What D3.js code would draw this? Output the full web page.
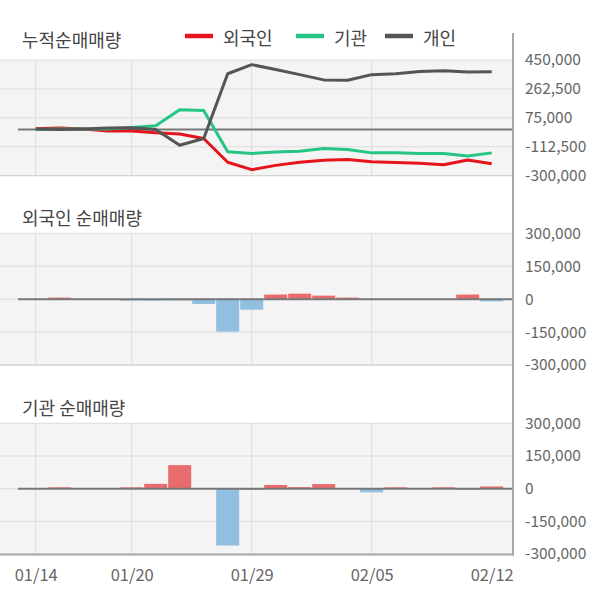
<!DOCTYPE html>
<html><head><meta charset="utf-8">
<script src="https://cdn.jsdelivr.net/npm/d3@7"></script>
<style>body{margin:0;background:#fff}svg{display:block}</style>
</head><body>
<script>
const dates = ["01/14","01/15","01/16","01/17","01/20","01/21","01/22","01/23","01/28","01/29","01/30","01/31","02/03","02/04","02/05","02/06","02/07","02/10","02/11","02/12"];
const xTickLabels = ["01/14","01/20","01/29","02/05","02/12"];
const gridDates = ["01/14","01/20","01/29","02/05"];
const cumForeign = [5000,10000,3000,-10000,-10000,-22000,-30000,-59000,-213000,-261000,-233000,-213000,-200000,-195000,-209000,-215000,-220000,-229000,-198000,-222000];
const cumInst = [0,2000,3000,2000,13000,24000,128000,123000,-145000,-156000,-147000,-141000,-123000,-130000,-152000,-152000,-156000,-156000,-172000,-152000];
const cumIndiv = [3000,0,3000,9000,11000,0,-103000,-59000,361000,420000,388000,355000,321000,319000,355000,361000,376000,381000,372000,374000];
const foreignNet = [0,7000,0,0,-7000,-7000,-6000,-22000,-148000,-48000,21000,25000,16000,7000,0,0,0,0,21000,-10000];
const instNet = [0,6000,0,0,6000,22000,108000,0,-261000,-6000,17000,7000,21000,0,-17000,6000,0,6000,-5000,10000];
const cumTicks = [450000,262500,75000,-112500,-300000];
const netTicks = [300000,150000,0,-150000,-300000];
const seriesNames = ["외국인","기관","개인"];
const seriesColors = ["#e5141c","#26c485","#555555"];

const W=600,H=604;
const svg=d3.select("body").append("svg").attr("width",W).attr("height",H);
const font="'Noto Sans CJK KR','Noto Sans',sans-serif";
const x=d3.scalePoint().domain(dates).range([35.7,491.7]);
const fmt=d3.formatLocale({decimal:".",thousands:",",grouping:[3],currency:["",""],minus:"-"}).format(",");

const panels=[
  {top:60,bottom:175.7,domain:[-300000,450000],ticks:cumTicks,title:"누적순매매량",titleY:47},
  {top:233.3,bottom:365,domain:[-300000,300000],ticks:netTicks,title:"외국인 순매매량",titleY:225},
  {top:423.3,bottom:554,domain:[-300000,300000],ticks:netTicks,title:"기관 순매매량",titleY:415}
];
panels.forEach(p=>{
  p.y=d3.scaleLinear().domain(p.domain).range([p.bottom,p.top]);
  svg.append("rect").attr("x",0).attr("y",p.top).attr("width",513).attr("height",p.bottom-p.top).attr("fill","#f4f4f4");
  const g=svg.append("g");
  p.ticks.forEach(t=>{
    g.append("line").attr("x1",0).attr("x2",513).attr("y1",p.y(t)).attr("y2",p.y(t)).attr("stroke","#dcdcdc").attr("stroke-width",1);
  });
  gridDates.forEach(d=>{
    g.append("line").attr("x1",x(d)).attr("x2",x(d)).attr("y1",p.top).attr("y2",p.bottom).attr("stroke","#dcdcdc").attr("stroke-width",1);
  });
  svg.append("text").attr("x",22).attr("y",p.titleY).attr("font-family",font).attr("font-size",18).attr("fill","#444").text(p.title);
  const ax=d3.axisRight(p.y).tickValues(p.ticks).tickSize(0).tickPadding(12).tickFormat(fmt);
  const ag=svg.append("g").attr("transform","translate(513,0)").call(ax);
  ag.select(".domain").remove();
  ag.selectAll("text").attr("font-family",font).attr("font-size",15.5).attr("fill","#666");
});

function bars(p,vals){
  const g=svg.append("g");
  g.selectAll("rect").data(vals.map((v,i)=>({v,d:dates[i]}))).enter().append("rect")
    .attr("x",d=>x(d.d)-11.5).attr("width",23)
    .attr("y",d=>p.y(Math.max(0,d.v))).attr("height",d=>Math.abs(p.y(d.v)-p.y(0)))
    .attr("fill",d=>d.v>=0?"#e96c6c":"#90bfe2");
}
bars(panels[1],foreignNet);
bars(panels[2],instNet);

panels.forEach(p=>{
  svg.append("line").attr("x1",18).attr("x2",513).attr("y1",p.y(0)).attr("y2",p.y(0)).attr("stroke","#777").attr("stroke-width",2);
});

const p0=panels[0];
const line=d3.line().x((d,i)=>x(dates[i])).y(d=>p0.y(d));
[cumForeign,cumInst,cumIndiv].forEach((s,k)=>{
  svg.append("path").datum(s).attr("d",line).attr("fill","none").attr("stroke",seriesColors[k]).attr("stroke-width",3).attr("stroke-linejoin","round");
});

svg.append("line").attr("x1",0).attr("x2",513).attr("y1",175.7).attr("y2",175.7).attr("stroke","#cfcfcf");
svg.append("line").attr("x1",0).attr("x2",513).attr("y1",365).attr("y2",365).attr("stroke","#cfcfcf");
svg.append("line").attr("x1",0).attr("x2",514).attr("y1",554.5).attr("y2",554.5).attr("stroke","#a8a8a8").attr("stroke-width",2);
svg.append("line").attr("x1",513).attr("x2",513).attr("y1",33).attr("y2",555.5).attr("stroke","#a8a8a8").attr("stroke-width",2);

const xa=d3.axisBottom(x).tickValues(xTickLabels).tickSize(0).tickPadding(0);
const xg=svg.append("g").attr("transform","translate(0,569)").call(xa);
xg.select(".domain").remove();
xg.selectAll("text").attr("font-family",font).attr("font-size",16.5).attr("fill","#666").attr("dy","0.71em");

const legX=[185,296,385];
seriesNames.forEach((n,k)=>{
  svg.append("line").attr("x1",legX[k]).attr("x2",legX[k]+28).attr("y1",36).attr("y2",36).attr("stroke",seriesColors[k]).attr("stroke-width",4.5);
  svg.append("text").attr("x",legX[k]+38).attr("y",45).attr("font-family",font).attr("font-size",18).attr("fill","#444").text(n);
});
</script>
</body></html>
